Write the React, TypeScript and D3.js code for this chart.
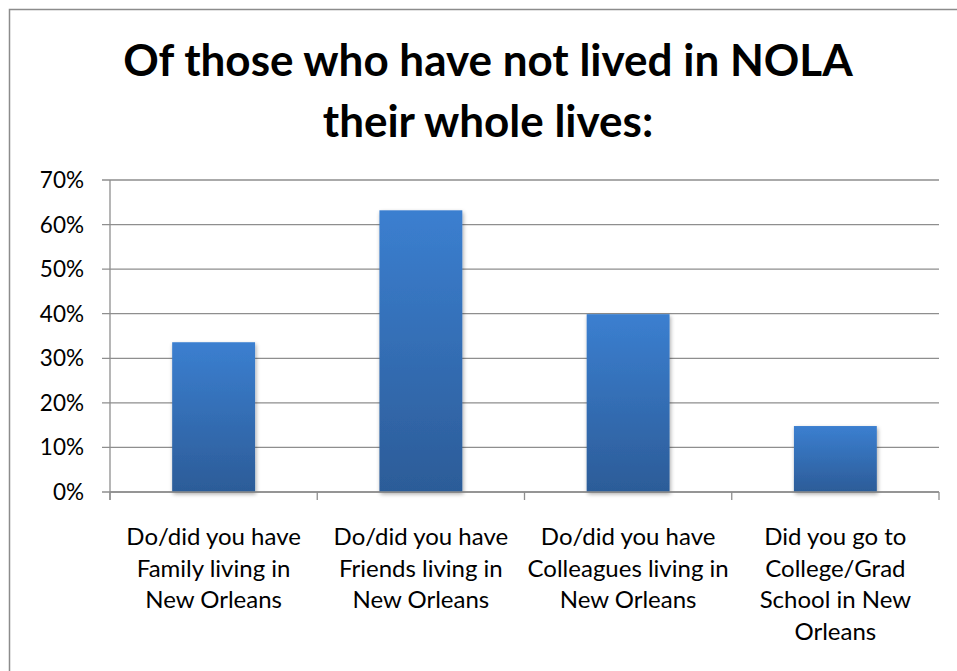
import React from "react";
import * as d3 from "d3";

const titleLines = ["Of those who have not lived in NOLA", "their whole lives:"];
const categories = [
  ["Do/did you have", "Family living in", "New Orleans"],
  ["Do/did you have", "Friends living in", "New Orleans"],
  ["Do/did you have", "Colleagues living in", "New Orleans"],
  ["Did you go to", "College/Grad", "School in New", "Orleans"],
];
const values = [0.336, 0.632, 0.399, 0.148];
const yTicks = [0, 0.1, 0.2, 0.3, 0.4, 0.5, 0.6, 0.7];

const W = 957;
const H = 671;
const plot = { left: 110, right: 939, top: 180, bottom: 492 };
const font = "Lato, 'Open Sans', sans-serif";

export default function App() {
  const keys = categories.map((_, i) => String(i));
  const x = d3.scaleBand().domain(keys).range([plot.left, plot.right]).paddingInner(0.6).paddingOuter(0.3);
  const xOuter = d3.scaleBand().domain(keys).range([plot.left, plot.right]);
  const y = d3.scaleLinear().domain([0, 0.7]).range([plot.bottom, plot.top]);
  const fmt = d3.format(".0%");
  const boundaries = [plot.left, ...keys.map((k) => (xOuter(k) as number) + xOuter.bandwidth())];

  return (
    <svg width={W} height={H} style={{ position: "absolute", left: 0, top: 0 }}>
      <defs>
        <linearGradient id="barGrad" x1="0" y1="0" x2="0" y2="1">
          <stop offset="0%" stopColor="#3b7fd0" />
          <stop offset="100%" stopColor="#2c5c98" />
        </linearGradient>
        <filter id="shadow" x="-20%" y="-5%" width="140%" height="115%">
          <feGaussianBlur in="SourceAlpha" stdDeviation="2" />
          <feOffset dx="1" dy="2" result="b" />
          <feComponentTransfer><feFuncA type="linear" slope="0.35" /></feComponentTransfer>
          <feMerge><feMergeNode /><feMergeNode in="SourceGraphic" /></feMerge>
        </filter>
      </defs>
      <rect x={0} y={0} width={W} height={H} fill="#ffffff" />
      <rect x={9.5} y={9.5} width={W + 10} height={H + 10} fill="none" stroke="#8c8c8c" strokeWidth={1.5} />
      {titleLines.map((t, i) => (
        <text key={i} x={488} y={76 + i * 61} textAnchor="middle" fontFamily={font} fontWeight="bold" fontSize={44} fill="#000">
          {t}
        </text>
      ))}
      {yTicks.map((t) => (
        <g key={t}>
          <line x1={plot.left - 8} x2={plot.right} y1={y(t)} y2={y(t)} stroke="#8e8e8e" strokeWidth={1.3} />
          <text x={84} y={y(t) + 8} textAnchor="end" fontFamily={font} fontSize={22.5} fill="#000">
            {fmt(t)}
          </text>
        </g>
      ))}
      <line x1={plot.left} x2={plot.left} y1={plot.top} y2={plot.bottom + 8} stroke="#8e8e8e" strokeWidth={1.3} />
      {boundaries.map((b, i) => (
        <line key={i} x1={b} x2={b} y1={plot.bottom} y2={plot.bottom + 8} stroke="#8e8e8e" strokeWidth={1.3} />
      ))}
      {values.map((v, i) => (
        <rect key={i} x={x(String(i))} y={y(v)} width={x.bandwidth()} height={plot.bottom - y(v)} fill="url(#barGrad)" filter="url(#shadow)" />
      ))}
      <line x1={plot.left} x2={plot.right} y1={plot.bottom} y2={plot.bottom} stroke="#8e8e8e" strokeWidth={1.3} />
      {categories.map((lines, i) => (
        <text key={i} textAnchor="middle" fontFamily={font} fontSize={24} fill="#000">
          {lines.map((l, j) => (
            <tspan key={j} x={(xOuter(String(i)) as number) + xOuter.bandwidth() / 2} y={545 + j * 31.5}>
              {l}
            </tspan>
          ))}
        </text>
      ))}
    </svg>
  );
}
